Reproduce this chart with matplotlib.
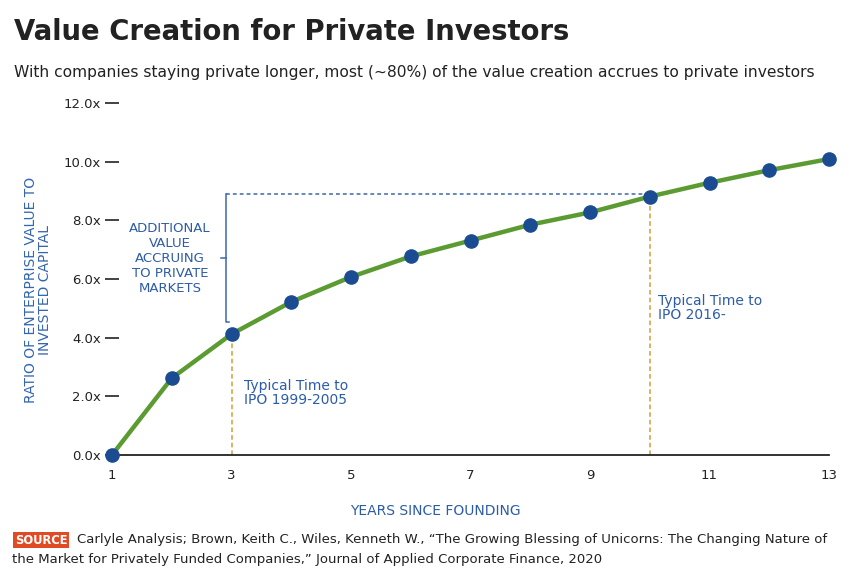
import matplotlib
matplotlib.use('Agg')
import matplotlib.pyplot as plt

# Data
years = [1, 2, 3, 4, 5, 6, 7, 8, 9, 10, 11, 12, 13]
ratio = [0.0, 2.62, 4.12, 5.22, 6.07, 6.77, 7.31, 7.85, 8.27, 8.81, 9.28, 9.71, 10.09]

y_ticks = [0, 2, 4, 6, 8, 10, 12]
y_tick_labels = ['0.0x', '2.0x', '4.0x', '6.0x', '8.0x', '10.0x', '12.0x']
x_ticks = [1, 3, 5, 7, 9, 11, 13]

ipo_old_year = 3
ipo_new_year = 10
bracket_x = 2.9
bracket_top = 8.9
bracket_bot = 4.53

GREEN = '#5b9b32'
NAVY = '#1b4c92'
BLUE_TXT = '#2d5ca6'
BLUE_LINE = '#3a67a8'
ORANGE = '#d99a36'
DARK = '#222222'

plt.rcParams['font.family'] = ['DejaVu Sans']

W, H = 854, 577
fig = plt.figure(figsize=(W / 100, H / 100), dpi=100)

# axes placed so that year 1 -> px 112, year 13 -> px 829, 0x -> px 455, 12x -> px 103
ax = fig.add_axes([112 / W, 1 - 455 / H, 717 / W, 352 / H])
ax.set_xlim(1, 13)
ax.set_ylim(0, 12)

ax.plot(years, ratio, color=GREEN, lw=3.2, zorder=3, clip_on=False,
        solid_capstyle='round', solid_joinstyle='round')
ax.plot(years, ratio, 'o', color=NAVY, ms=9.5, zorder=4, clip_on=False)

# orange dashed drop lines for typical IPO times
i_old = years.index(ipo_old_year)
ax.plot([ipo_old_year, ipo_old_year], [0, ratio[i_old]], ls=(0, (3, 2)),
        color=ORANGE, lw=1.1, zorder=2)
ax.plot([ipo_new_year, ipo_new_year], [0, bracket_top], ls=(0, (3, 2)),
        color=ORANGE, lw=1.1, zorder=2)

# blue dashed line and bracket
ax.plot([bracket_x, ipo_new_year], [bracket_top, bracket_top], ls=(0, (2.5, 2)),
        color=BLUE_LINE, lw=1.1, zorder=2)
ax.plot([bracket_x + 0.06, bracket_x, bracket_x], [bracket_bot, bracket_bot, bracket_top],
        color=BLUE_LINE, lw=1.1, zorder=2)
mid = (bracket_bot + bracket_top) / 2
ax.plot([bracket_x - 0.08, bracket_x], [mid, mid], color=BLUE_LINE, lw=1.1, zorder=2)

ax.text(1.97, mid, 'ADDITIONAL\nVALUE\nACCRUING\nTO PRIVATE\nMARKETS',
        ha='center', va='center', color=BLUE_TXT, fontsize=9.5, linespacing=1.2)
ax.text(3.21, 2.12, 'Typical Time to\nIPO 1999-2005', ha='left', va='center',
        color=BLUE_TXT, fontsize=10, linespacing=1.0)
ax.text(10.14, 5.0, 'Typical Time to\nIPO 2016-', ha='left', va='center',
        color=BLUE_TXT, fontsize=10, linespacing=1.0)

# axes styling
for s in ['top', 'right', 'left']:
    ax.spines[s].set_visible(False)
ax.spines['bottom'].set_color(DARK)
ax.spines['bottom'].set_linewidth(1.3)

ax.set_yticks(y_ticks)
ax.set_yticklabels(y_tick_labels)
ax.set_xticks(x_ticks)
ax.set_xticklabels([str(x) for x in x_ticks])
ax.tick_params(axis='y', direction='inout', length=10, width=1.2, color=DARK,
               pad=3, labelsize=9.5, labelcolor=DARK)
ax.tick_params(axis='x', length=0, pad=10, labelsize=9.5, labelcolor=DARK)

fig.text(38 / W, 1 - 290 / H, 'RATIO OF ENTERPRISE VALUE TO\nINVESTED CAPITAL',
         rotation=90, ha='center', va='center', color='#3466ae', fontsize=10,
         linespacing=1.0)
fig.text(435 / W, 1 - 511 / H, 'YEARS SINCE FOUNDING', ha='center', va='center',
         color=BLUE_TXT, fontsize=10)

# title and subtitle
fig.text(14 / W, 1 - 32 / H, 'Value Creation for Private Investors', ha='left',
         va='center', fontsize=19.8, fontweight='bold', color=DARK)
fig.text(14 / W, 1 - 73 / H,
         'With companies staying private longer, most (~80%) of the value creation '
         'accrues to private investors', ha='left', va='center', fontsize=11.2,
         color=DARK)

# source note
fig.text(15 / W, 1 - 540 / H, 'SOURCE', ha='left', va='center', fontsize=8.3,
         color='white', fontweight='bold',
         bbox=dict(boxstyle='square,pad=0.15', fc='#e04b26', ec='none'))
fig.text(77 / W, 1 - 540 / H,
         'Carlyle Analysis; Brown, Keith C., Wiles, Kenneth W., \u201cThe Growing Blessing '
         'of Unicorns: The Changing Nature of', ha='left', va='center', fontsize=9.5,
         color=DARK)
fig.text(12 / W, 1 - 560 / H,
         'the Market for Privately Funded Companies,\u201d Journal of Applied Corporate '
         'Finance, 2020', ha='left', va='center', fontsize=9.5, color=DARK)

fig.savefig('out.png', dpi=100)
